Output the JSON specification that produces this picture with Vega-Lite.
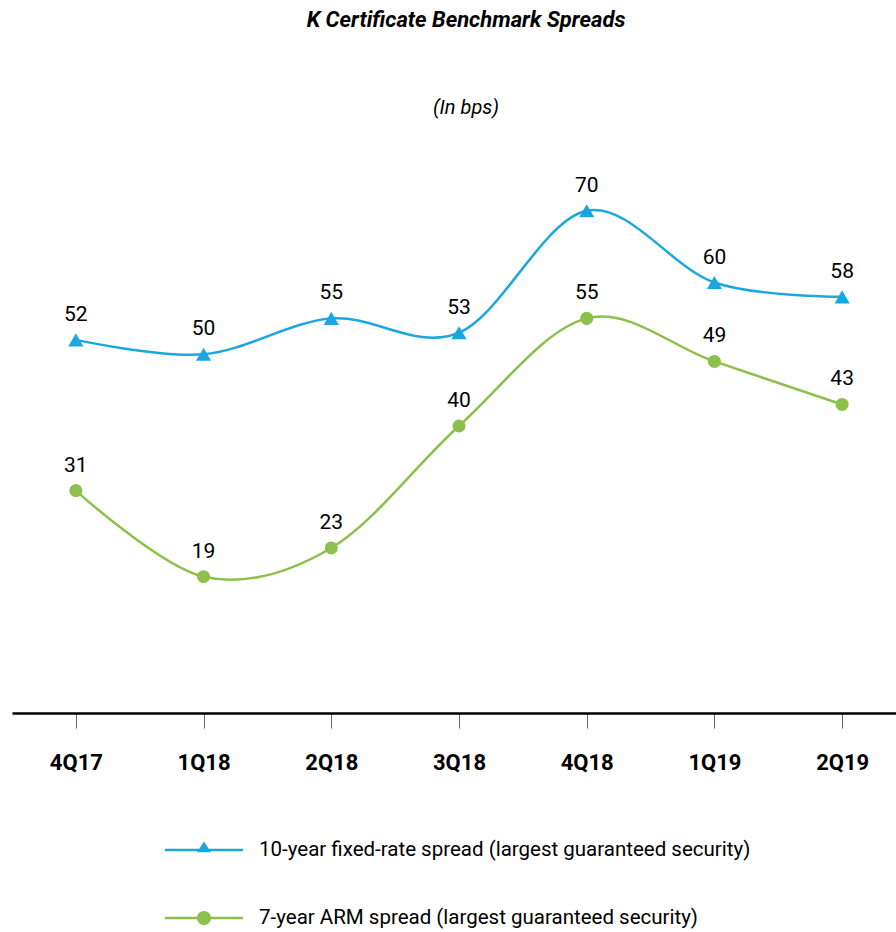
{
  "$schema": "https://vega.github.io/schema/vega-lite/v6.json",
  "autosize": "none",
  "padding": {"left": 12, "top": 139, "right": 0, "bottom": 219},
  "width": 894,
  "height": 574,
  "background": "white",
  "title": {
    "text": "K Certificate Benchmark Spreads",
    "subtitle": "(In bps)",
    "font": "Roboto",
    "fontSize": 22,
    "fontWeight": "bold",
    "fontStyle": "italic",
    "color": "black",
    "subtitleFont": "Roboto",
    "subtitleFontSize": 20,
    "subtitleFontStyle": "italic",
    "subtitleColor": "black",
    "subtitlePadding": 66,
    "anchor": "middle",
    "dx": 7,
    "offset": 20
  },
  "config": {"view": {"stroke": null}},
  "data": {
    "values": [
      {"quarter": "4Q17", "series": "10-year fixed-rate spread (largest guaranteed security)", "value": 52},
      {"quarter": "1Q18", "series": "10-year fixed-rate spread (largest guaranteed security)", "value": 50},
      {"quarter": "2Q18", "series": "10-year fixed-rate spread (largest guaranteed security)", "value": 55},
      {"quarter": "3Q18", "series": "10-year fixed-rate spread (largest guaranteed security)", "value": 53},
      {"quarter": "4Q18", "series": "10-year fixed-rate spread (largest guaranteed security)", "value": 70},
      {"quarter": "1Q19", "series": "10-year fixed-rate spread (largest guaranteed security)", "value": 60},
      {"quarter": "2Q19", "series": "10-year fixed-rate spread (largest guaranteed security)", "value": 58},
      {"quarter": "4Q17", "series": "7-year ARM spread (largest guaranteed security)", "value": 31},
      {"quarter": "1Q18", "series": "7-year ARM spread (largest guaranteed security)", "value": 19},
      {"quarter": "2Q18", "series": "7-year ARM spread (largest guaranteed security)", "value": 23},
      {"quarter": "3Q18", "series": "7-year ARM spread (largest guaranteed security)", "value": 40},
      {"quarter": "4Q18", "series": "7-year ARM spread (largest guaranteed security)", "value": 55},
      {"quarter": "1Q19", "series": "7-year ARM spread (largest guaranteed security)", "value": 49},
      {"quarter": "2Q19", "series": "7-year ARM spread (largest guaranteed security)", "value": 43}
    ]
  },
  "encoding": {
    "x": {
      "field": "quarter",
      "type": "ordinal",
      "sort": null,
      "scale": {"type": "point", "padding": 0.5},
      "axis": {
        "title": null,
        "labelAngle": 0,
        "labelFont": "Roboto",
        "labelFontSize": 22,
        "labelFontWeight": "bold",
        "labelColor": "black",
        "labelPadding": 24,
        "domainColor": "black",
        "domainWidth": 2.5,
        "tickColor": "#666666",
        "tickSize": 15,
        "tickWidth": 1
      }
    },
    "y": {
      "field": "value",
      "type": "quantitative",
      "scale": {"domain": [0, 80], "nice": false},
      "axis": null
    },
    "color": {
      "field": "series",
      "type": "nominal",
      "scale": {
        "domain": ["10-year fixed-rate spread (largest guaranteed security)", "7-year ARM spread (largest guaranteed security)"],
        "range": ["#1aa7df", "#8cc04b"]
      },
      "legend": {
        "orient": "none",
        "legendX": 153,
        "legendY": 672,
        "direction": "vertical",
        "title": null,
        "labelFont": "Roboto",
        "labelFontSize": 20.5,
        "labelColor": "black",
        "labelOffset": 16,
        "symbolSize": 6084,
        "symbolStrokeWidth": 0,
        "symbolOpacity": 1,
        "rowPadding": 18,
        "labelLimit": 800
      }
    }
  },
  "layer": [
    {
      "mark": {"type": "line", "interpolate": "cardinal", "strokeWidth": 2.5}
    },
    {
      "transform": [{"filter": "datum.series == '10-year fixed-rate spread (largest guaranteed security)'"}],
      "mark": {"type": "point", "filled": true, "opacity": 1, "shape": "triangle-up", "size": 230}
    },
    {
      "transform": [{"filter": "datum.series == '7-year ARM spread (largest guaranteed security)'"}],
      "mark": {"type": "point", "filled": true, "opacity": 1, "shape": "circle", "size": 170}
    },
    {
      "mark": {"type": "point", "filled": true, "opacity": 0, "size": 1},
      "encoding": {
        "shape": {
          "field": "series",
          "type": "nominal",
          "scale": {
            "domain": ["10-year fixed-rate spread (largest guaranteed security)", "7-year ARM spread (largest guaranteed security)"],
            "range": [
              "M-1,-0.032H1V0.032H-1ZM-0.18,0.06L0,-0.22L0.18,0.06Z",
              "M-1,-0.032H1V0.032H-1ZM0.18,0A0.18,0.18 0 1,1 -0.18,0A0.18,0.18 0 1,1 0.18,0Z"
            ]
          },
          "legend": {
            "orient": "none",
            "legendX": 153,
            "legendY": 672,
            "direction": "vertical",
            "title": null,
            "labelFont": "Roboto",
            "labelFontSize": 20.5,
            "labelColor": "black",
            "labelOffset": 16,
            "symbolSize": 6084,
            "symbolStrokeWidth": 0,
            "symbolOpacity": 1,
            "rowPadding": 18,
            "labelLimit": 800
          }
        }
      }
    },
    {
      "mark": {"type": "text", "dy": -25, "font": "Roboto", "fontSize": 21, "color": "black"},
      "encoding": {
        "text": {"field": "value", "type": "quantitative"},
        "color": {"value": "black"}
      }
    }
  ]
}
